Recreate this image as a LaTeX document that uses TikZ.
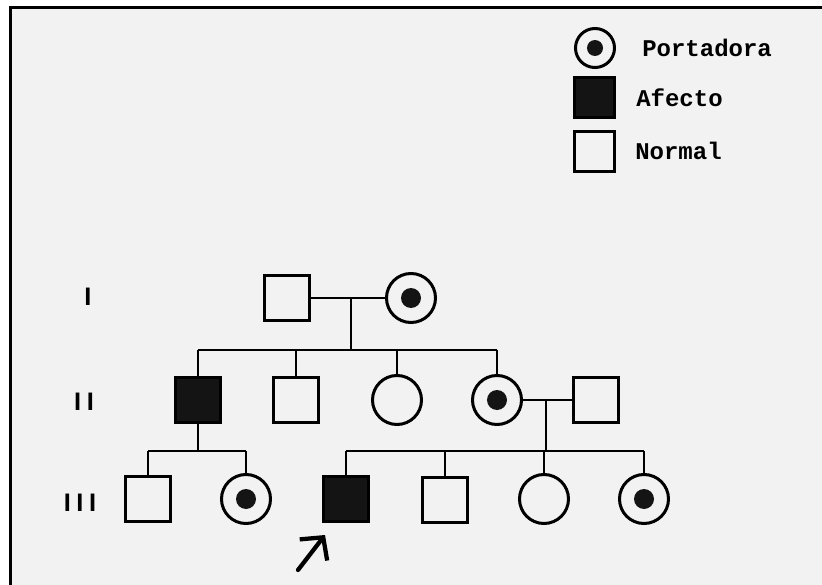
\documentclass[tikz,border=0pt]{standalone}
\usepackage{fontspec}
\setmainfont{Liberation Mono}
\newfontfamily\labfont{Liberation Sans}
\usetikzlibrary{arrows.meta}
\begin{document}
\begin{tikzpicture}[x=0.75pt,y=-0.75pt,
  ind/.style={draw=black,line width=2.25pt},
  male/.style={ind,rectangle,minimum size=33.75pt,inner sep=0pt},
  female/.style={ind,circle,minimum size=36.75pt,inner sep=0pt},
  affected/.style={male,fill=black!92},
  carrier/.style={female,path picture={\fill[black!92] (path picture bounding box.center) circle (#1);}},
  carrier/.default=7.5pt,
  link/.style={line width=2.1pt},
  lbl/.style={font=\fontsize{18}{20}\selectfont\bfseries,anchor=base west,inner sep=0pt},
  gen/.style={font=\labfont\fontsize{19}{20}\selectfont\bfseries,inner sep=0pt}]
\useasboundingbox (0,0) rectangle (822,585);
\fill[black!5] (10.5,7.5) rectangle (822,585);
\draw[line width=2.25pt] (10.5,585) -- (10.5,7.5) -- (822,7.5);

% legend
\node[carrier=6pt,minimum size=29.25pt] (Lc) at (595,48) {};
\node[affected,minimum size=30pt] (La) at (594,98) {};
\node[male,minimum size=30pt] (Ln) at (594.5,151.5) {};
\node[lbl] (Lct) at (642,57) {Portadora};
\node[lbl] (Lat) at (636,107) {Afecto};
\node[lbl] (Lnt) at (635,160) {Normal};

% generation labels
\node[gen] (g1) at (88,297) {I};
\node[gen] (g2) at (84,402) {I\kern4.2pt I};
\node[gen] (g3) at (80,503) {I\kern4.2pt I\kern4.2pt I};

% generation I
\node[male] (I1) at (287,298) {};
\node[carrier] (I2) at (411,298) {};
% generation II
\node[affected] (II1) at (198,400) {};
\node[male] (II2) at (296,400) {};
\node[female] (II3) at (397,400) {};
\node[carrier] (II4) at (497,400) {};
\node[male] (II5) at (596,400) {};
% generation III
\node[male] (III1) at (148,499) {};
\node[carrier] (III2) at (246,499) {};
\node[affected] (III3) at (346,499) {};
\node[male] (III4) at (445,500) {};
\node[female] (III5) at (544,499) {};
\node[carrier] (III6) at (644,499) {};

% connectors
\coordinate (m1) at (351,298);
\coordinate (s1) at (351,350);
\draw[link] (I1) -- (I2);
\draw[link] (m1) -- (s1);
\draw[link] (II1 |- s1) -- (II4 |- s1);
\foreach \n in {II1,II2,II3,II4} \draw[link] (\n |- s1) -- (\n);

\coordinate (m2) at (546,400);
\coordinate (s2) at (546,451);
\draw[link] (II4) -- (II5);
\draw[link] (m2) -- (s2);
\draw[link] (III3 |- s2) -- (III6 |- s2);
\foreach \n in {III3,III4,III5,III6} \draw[link] (\n |- s2) -- (\n);

\coordinate (s3) at (198,451);
\draw[link] (II1) -- (s3);
\draw[link] (III1 |- s3) -- (III2 |- s3);
\foreach \n in {III1,III2} \draw[link] (\n |- s3) -- (\n);

% proband arrow
\coordinate (at) at (298,570);
\coordinate (ah) at (325,535);
\draw[line width=3.2pt,line cap=round,-{Straight Barb[length=12pt,width=26pt]}] (at) -- (ah);
\end{tikzpicture}
\end{document}
